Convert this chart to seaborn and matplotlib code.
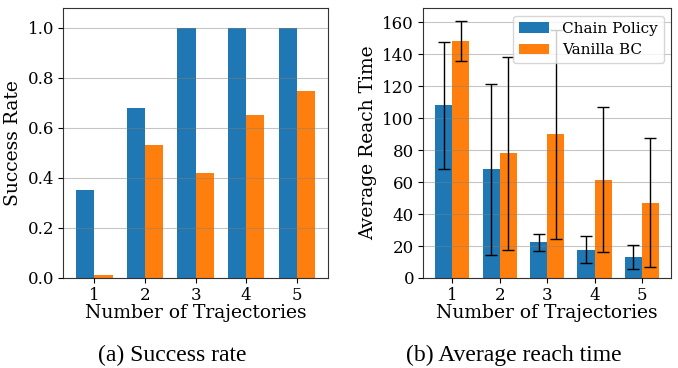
# -*- coding: utf-8 -*-
import pandas as pd
import numpy as np
import matplotlib
matplotlib.use("Agg")
import matplotlib.pyplot as plt
import seaborn as sns

# Values
trajectories = ["1", "2", "3", "4", "5"]
methods = ["Chain Policy", "Vanilla BC"]

success_chain = [0.35, 0.68, 1.0, 1.0, 1.0]
success_bc = [0.01, 0.53, 0.42, 0.65, 0.745]

reach_chain = [108, 68, 22.5, 17.8, 13.2]
reach_bc = [148.5, 78, 90, 61.5, 47.2]
reach_chain_err = [40, 53.5, 5.3, 8.2, 7.7]
reach_bc_err = [12.5, 60.5, 65.5, 45.3, 40.3]

colors = ["#1f77b4", "#ff7f0e"]

success_df = pd.DataFrame({
    "Trajectories": trajectories * 2,
    "Method": [methods[0]] * 5 + [methods[1]] * 5,
    "Value": success_chain + success_bc,
})
reach_df = pd.DataFrame({
    "Trajectories": trajectories * 2,
    "Method": [methods[0]] * 5 + [methods[1]] * 5,
    "Value": reach_chain + reach_bc,
})

sns.set_style("white")
plt.rcParams["font.family"] = ["DejaVu Serif"]
plt.rcParams["text.color"] = "black"
plt.rcParams["axes.labelcolor"] = "black"
plt.rcParams["xtick.color"] = "black"
plt.rcParams["ytick.color"] = "black"
plt.rcParams["xtick.bottom"] = True
plt.rcParams["ytick.left"] = True

fig = plt.figure(figsize=(6.78, 3.68), dpi=100)
ax1 = fig.add_axes([0.093, 0.2446, 0.391, 0.7337])
ax2 = fig.add_axes([0.624, 0.2446, 0.366, 0.7337])

# (a) Success rate
sns.barplot(data=success_df, x="Trajectories", y="Value", hue="Method",
            palette=colors, width=0.72, gap=0, errorbar=None, legend=False,
            saturation=1, linewidth=0, ax=ax1)
ax1.set_ylim(0, 1.078)
ax1.set_xlim(-0.62, 4.62)
ax1.set_yticks([0.0, 0.2, 0.4, 0.6, 0.8, 1.0])
ax1.set_ylabel("Success Rate", fontsize=13.5)

# (b) Average reach time
sns.barplot(data=reach_df, x="Trajectories", y="Value", hue="Method",
            palette=colors, width=0.72, gap=0, errorbar=None,
            saturation=1, linewidth=0, ax=ax2)
for cont, errs in zip(ax2.containers, [reach_chain_err, reach_bc_err]):
    xs = [p.get_x() + p.get_width() / 2 for p in cont.patches]
    ys = [p.get_height() for p in cont.patches]
    ax2.errorbar(xs, ys, yerr=errs, fmt="none", ecolor="black",
                 elinewidth=1.0, capsize=4, capthick=1.0, zorder=3)
ax2.set_ylim(0, 169)
ax2.set_xlim(-0.62, 4.62)
ax2.set_yticks(range(0, 161, 20))
ax2.set_ylabel("Average Reach Time", fontsize=13.5)
leg = ax2.legend(loc="upper right", fontsize=11, framealpha=0.8,
                 borderaxespad=0.5)
leg.set_title(None)

for ax in (ax1, ax2):
    ax.set_xlabel("Number of Trajectories", fontsize=13.5, labelpad=0)
    ax.tick_params(labelsize=12, length=3.5, width=0.8, pad=3)
    ax.set_axisbelow(False)
    ax.yaxis.grid(True, color="grey", alpha=0.45, linewidth=0.8)
    ax.xaxis.grid(False)
    for s in ax.spines.values():
        s.set_visible(True)
        s.set_color("#333333")
        s.set_linewidth(0.8)

fig.text(0.254, 0.035, "(a) Success rate", ha="center", va="center",
         family=["Liberation Serif"], fontsize=17)
fig.text(0.758, 0.035, "(b) Average reach time", ha="center", va="center",
         family=["Liberation Serif"], fontsize=17)

fig.savefig("out.png", dpi=100)
